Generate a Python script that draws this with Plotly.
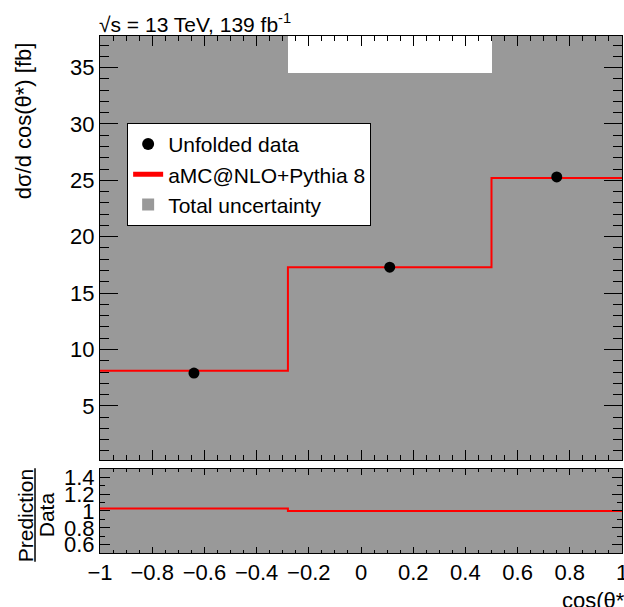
import plotly.graph_objects as go

# ---- data ----
bin_edges = [-1.0, -0.28, 0.5, 1.0]
data_vals = [7.9, 17.3, 25.3]
pred_vals = [8.1, 17.3, 25.2]
unc_low = [0.0, 0.0, 0.0]
unc_high = [40.0, 34.5, 40.0]
ratio_vals = [1.03, 1.0, 1.0]
ratio_unc_low = [0.0, 0.0, 0.0]
ratio_unc_high = [2.0, 2.0, 2.0]
x_tickvals = [-1, -0.8, -0.6, -0.4, -0.2, 0, 0.2, 0.4, 0.6, 0.8, 1]
x_ticktext = ["\u22121", "\u22120.8", "\u22120.6", "\u22120.4", "\u22120.2", "0", "0.2", "0.4", "0.6", "0.8", "1"]
y_tickvals = [5, 10, 15, 20, 25, 30, 35]
r_tickvals = [0.6, 0.8, 1.0, 1.2, 1.4]
r_ticktext = ["0.6", "0.8", "1", "1.2", "1.4"]

FONT = "Liberation Sans, Arial, sans-serif"
GRAY = "rgb(153,153,153)"

centers = [(bin_edges[i] + bin_edges[i + 1]) / 2 for i in range(len(data_vals))]
widths = [bin_edges[i + 1] - bin_edges[i] for i in range(len(data_vals))]

fig = go.Figure()

# uncertainty band (top)
fig.add_trace(go.Bar(
    x=centers, y=[h - l for h, l in zip(unc_high, unc_low)], base=unc_low, width=widths,
    marker=dict(color=GRAY, line=dict(width=0)), name="Total uncertainty",
    xaxis="x", yaxis="y", showlegend=True, legendrank=3))
# prediction step line (legend entry drawn with a thinner line like the reference)
fig.add_trace(go.Scatter(
    x=bin_edges, y=pred_vals + [pred_vals[-1]], mode="lines", line_shape="hv",
    line=dict(color="red", width=2), name="aMC@NLO+Pythia 8",
    xaxis="x", yaxis="y", showlegend=False))
fig.add_trace(go.Scatter(
    x=[None], y=[None], mode="lines", line=dict(color="red", width=1.3),
    name="aMC@NLO+Pythia 8", xaxis="x", yaxis="y", legendrank=2))
# data points
fig.add_trace(go.Scatter(
    x=centers, y=data_vals, mode="markers",
    marker=dict(color="black", size=11, symbol="circle"), name="Unfolded data",
    xaxis="x", yaxis="y", legendrank=1))

# ratio panel
fig.add_trace(go.Bar(
    x=centers, y=[h - l for h, l in zip(ratio_unc_high, ratio_unc_low)], base=ratio_unc_low, width=widths,
    marker=dict(color=GRAY, line=dict(width=0)), showlegend=False,
    xaxis="x2", yaxis="y2"))
fig.add_trace(go.Scatter(
    x=bin_edges, y=ratio_vals + [ratio_vals[-1]], mode="lines", line_shape="hv",
    line=dict(color="red", width=2), showlegend=False,
    xaxis="x2", yaxis="y2"))

axis_common = dict(showline=True, linecolor="black", linewidth=1, mirror="allticks",
                   ticks="inside", tickcolor="black", showgrid=False, zeroline=False,
                   automargin=False,
                   tickfont=dict(family=FONT, size=22, color="black"))

fig.update_layout(
    width=624, height=607,
    margin=dict(l=100, r=2, t=36, b=54, autoexpand=False),
    paper_bgcolor="white", plot_bgcolor="white",
    barmode="overlay", bargap=0,
    font=dict(family=FONT, size=22, color="black"),
    xaxis=dict(domain=[0, 1], range=[-1, 1], anchor="y", tickvals=x_tickvals,
               showticklabels=False, ticklen=10, tickwidth=1,
               minor=dict(dtick=0.05, ticks="inside", ticklen=5, tickcolor="black"),
               **axis_common),
    yaxis=dict(domain=[0.18, 1], range=[0.2, 37.8], anchor="x", tickvals=y_tickvals,
               ticklen=18, tickwidth=1,
               minor=dict(dtick=1, ticks="inside", ticklen=9, tickcolor="black"),
               **axis_common),
    xaxis2=dict(domain=[0, 1], range=[-1, 1], anchor="y2", tickvals=x_tickvals,
                ticktext=x_ticktext, ticklen=6, tickwidth=1, ticklabeloverflow="allow",
                minor=dict(dtick=0.05, ticks="inside", ticklen=3, tickcolor="black"),
                **axis_common),
    yaxis2=dict(domain=[0, 0.1625], range=[0.5, 1.5], anchor="x2", tickvals=r_tickvals,
                ticktext=r_ticktext, ticklen=10, tickwidth=1,
                minor=dict(dtick=0.1, ticks="inside", ticklen=5, tickcolor="black"),
                **axis_common),
    legend=dict(x=0.052, y=0.832, xanchor="left", yanchor="top",
                bgcolor="white", bordercolor="black", borderwidth=1,
                font=dict(family=FONT, size=21, color="black"),
                traceorder="normal", itemsizing="constant", tracegroupgap=0),
    showlegend=True,
)

fig.add_annotation(text="\u221As = 13 TeV, 139 fb<sup>-1</sup>", xref="paper", yref="paper",
                   x=0, y=1, xanchor="left", yanchor="bottom", showarrow=False,
                   font=dict(family=FONT, size=21, color="black"), xshift=-3, yshift=-2)
fig.add_annotation(text="d\u03c3/d cos(\u03b8*) [fb]", xref="paper", yref="paper",
                   x=-0.146, y=1, xanchor="center", yanchor="top", textangle=-90, showarrow=False,
                   font=dict(family=FONT, size=22, color="black"), yshift=-4)
fig.add_annotation(text="cos(\u03b8*)", xref="paper", yref="paper",
                   x=0.881, y=-0.091, xanchor="left", yanchor="middle", showarrow=False,
                   font=dict(family=FONT, size=22, color="black"))
fig.add_annotation(text="Prediction", xref="paper", yref="paper",
                   x=-0.1437, y=0.073, xanchor="center", yanchor="middle", textangle=-90, showarrow=False,
                   font=dict(family=FONT, size=21, color="black"))
fig.add_annotation(text="Data", xref="paper", yref="paper",
                   x=-0.1034, y=0.073, xanchor="center", yanchor="middle", textangle=-90, showarrow=False,
                   font=dict(family=FONT, size=21, color="black"))
fig.add_shape(type="line", xref="paper", yref="paper", x0=-0.1245, x1=-0.1245,
              y0=0.164, y1=-0.017, line=dict(color="black", width=1.5))

fig.write_html("out.html")
